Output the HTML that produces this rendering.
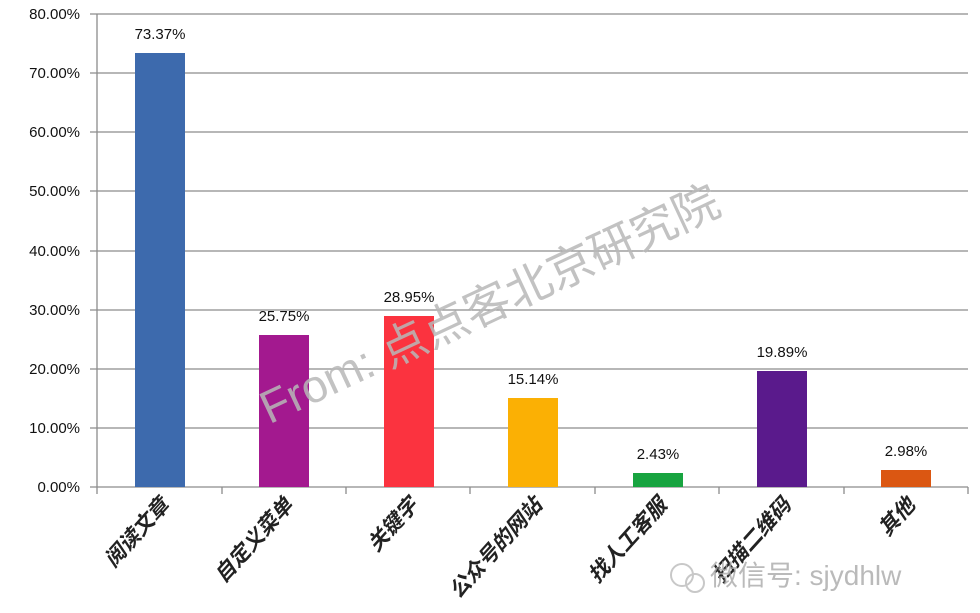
<!DOCTYPE html>
<html><head><meta charset="utf-8"><style>
body{margin:0;background:#fff;}
svg{display:block;font-family:"Liberation Sans","Noto Sans CJK SC",sans-serif;}
</style></head><body>
<svg width="980" height="613" viewBox="0 0 980 613">
<g stroke="#8c8c8c" stroke-width="1.3">
<line x1="90" y1="14" x2="968" y2="14"/>
<line x1="90" y1="73" x2="968" y2="73"/>
<line x1="90" y1="132" x2="968" y2="132"/>
<line x1="90" y1="191" x2="968" y2="191"/>
<line x1="90" y1="251" x2="968" y2="251"/>
<line x1="90" y1="310" x2="968" y2="310"/>
<line x1="90" y1="369" x2="968" y2="369"/>
<line x1="90" y1="428" x2="968" y2="428"/>
<line x1="90" y1="487" x2="968" y2="487"/>
<line x1="97" y1="14" x2="97" y2="494"/>
<line x1="222" y1="487" x2="222" y2="494"/>
<line x1="346" y1="487" x2="346" y2="494"/>
<line x1="470" y1="487" x2="470" y2="494"/>
<line x1="595" y1="487" x2="595" y2="494"/>
<line x1="719" y1="487" x2="719" y2="494"/>
<line x1="844" y1="487" x2="844" y2="494"/>
<line x1="968" y1="487" x2="968" y2="494"/>
</g>
<g font-size="15" fill="#111" text-anchor="end">
<text x="80" y="19">80.00%</text><text x="80" y="78">70.00%</text>
<text x="80" y="137">60.00%</text><text x="80" y="196">50.00%</text>
<text x="80" y="256">40.00%</text><text x="80" y="315">30.00%</text>
<text x="80" y="374">20.00%</text><text x="80" y="433">10.00%</text>
<text x="80" y="492">0.00%</text>
</g>
<rect x="135" y="53" width="50" height="434" fill="#3d6aad"/>
<rect x="259" y="335" width="50" height="152" fill="#a3198f"/>
<rect x="384" y="316" width="50" height="171" fill="#fb333f"/>
<rect x="508" y="398" width="50" height="89" fill="#fbb004"/>
<rect x="633" y="473" width="50" height="14" fill="#18a440"/>
<rect x="757" y="371" width="50" height="116" fill="#5a1a8c"/>
<rect x="881" y="470" width="50" height="17" fill="#db5712"/>
<g font-size="15" fill="#111" text-anchor="middle">
<text x="160" y="39">73.37%</text>
<text x="284" y="321">25.75%</text>
<text x="409" y="302">28.95%</text>
<text x="533" y="384">15.14%</text>
<text x="658" y="459">2.43%</text>
<text x="782" y="357">19.89%</text>
<text x="906" y="456">2.98%</text>
</g>
<text x="490" y="320" font-size="46" fill="#b8b8b8" text-anchor="middle" transform="rotate(-25 490 305)" opacity="0.85">From: 点点客北京研究院</text>
<g font-size="21" font-weight="bold" fill="#222" text-anchor="end" font-style="italic">
<text transform="translate(170 506) rotate(-48)">阅读文章</text>
<text transform="translate(294 506) rotate(-48)">自定义菜单</text>
<text transform="translate(419 506) rotate(-48)">关键字</text>
<text transform="translate(543 506) rotate(-48)">公众号的网站</text>
<text transform="translate(668 506) rotate(-48)">找人工客服</text>
<text transform="translate(792 506) rotate(-48)">扫描二维码</text>
<text transform="translate(916 506) rotate(-48)">其他</text>
</g>
<g fill="#aaa" font-size="28" opacity="0.8">
<circle cx="682" cy="575" r="11" fill="none" stroke="#bbb" stroke-width="2"/>
<circle cx="695" cy="583" r="9" fill="none" stroke="#bbb" stroke-width="2"/>
<text x="710" y="585">微信号: sjydhlw</text>
</g>
</svg>
</body></html>
